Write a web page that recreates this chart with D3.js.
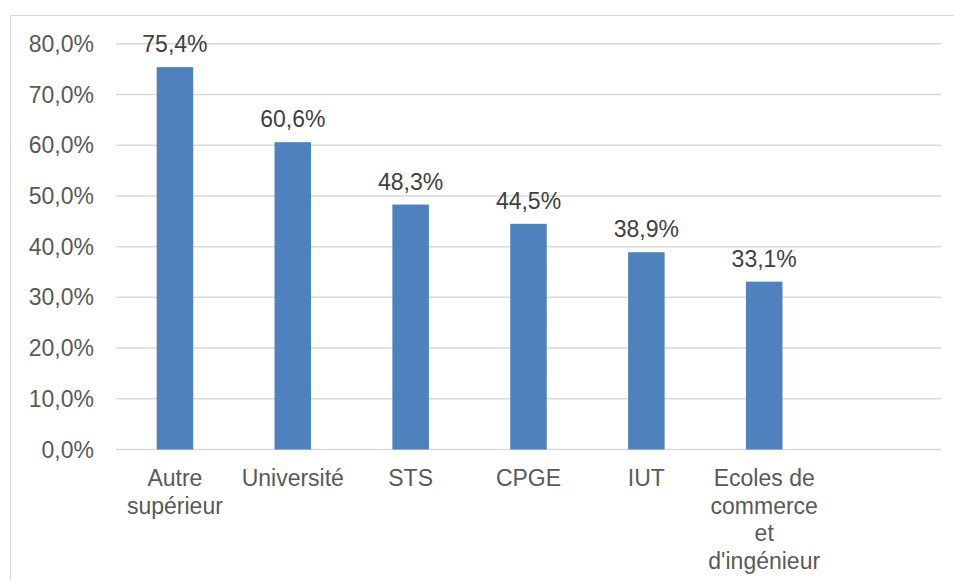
<!DOCTYPE html>
<html lang="fr">
<head>
<meta charset="UTF-8">
<script src="https://d3js.org/d3.v7.min.js"></script>
<style>
  body { margin: 0; background: #fff; }
  svg { display: block; font-family: "Liberation Sans", Arial, sans-serif; }
</style>
</head>
<body>
<div id="chart"></div>
<script>
const categories = ["Autre supérieur", "Université", "STS", "CPGE", "IUT", "Ecoles de commerce et d'ingénieur", ""];
const values = [75.4, 60.6, 48.3, 44.5, 38.9, 33.1, null];
const yTicks = [0, 10, 20, 30, 40, 50, 60, 70, 80];

const width = 954, height = 581;
const margin = { top: 43.8, left: 116, right: 13, bottom: 131.5 };

const svg = d3.select("#chart").append("svg")
  .attr("width", width)
  .attr("height", height);

// chart border
svg.append("rect")
  .attr("x", 10.5).attr("y", 15.5)
  .attr("width", 980).attr("height", 620)
  .attr("fill", "none")
  .attr("stroke", "#d9d9d9");

const x = d3.scaleBand()
  .domain(categories.map((c, i) => i))
  .range([margin.left, width - margin.right])
  .paddingInner(0.69)
  .paddingOuter(0.345);

const y = d3.scaleLinear()
  .domain([0, 80])
  .range([height - margin.bottom, margin.top]);

const fmt = v => v.toFixed(1).replace(".", ",") + "%";

// gridlines
svg.append("g")
  .selectAll("line")
  .data(yTicks)
  .join("line")
  .attr("x1", margin.left)
  .attr("x2", width - margin.right)
  .attr("y1", d => y(d))
  .attr("y2", d => y(d))
  .attr("stroke", "#d9d9d9")
  .attr("stroke-width", 1.5);

// y labels
svg.append("g")
  .selectAll("text")
  .data(yTicks)
  .join("text")
  .attr("x", margin.left - 22)
  .attr("y", d => y(d))
  .attr("dy", "0.35em")
  .attr("text-anchor", "end")
  .attr("font-size", 23)
  .attr("fill", "#595959")
  .text(d => fmt(d));

const data = categories.map((c, i) => ({ i, c, v: values[i] })).filter(d => d.v != null);

svg.append("g")
  .selectAll("rect")
  .data(data)
  .join("rect")
  .attr("x", d => x(d.i))
  .attr("width", x.bandwidth())
  .attr("y", d => y(d.v))
  .attr("height", d => y(0) - y(d.v))
  .attr("fill", "#4f81bd");

// value labels
svg.append("g")
  .selectAll("text")
  .data(data)
  .join("text")
  .attr("x", d => x(d.i) + x.bandwidth() / 2)
  .attr("y", d => y(d.v) - 15)
  .attr("text-anchor", "middle")
  .attr("font-size", 23)
  .attr("fill", "#404040")
  .text(d => fmt(d.v));

// category labels with wrapping
const step = x.step();
const catG = svg.append("g");
data.forEach(d => {
  const t = catG.append("text")
    .attr("x", x(d.i) + x.bandwidth() / 2)
    .attr("y", y(0) + 36.5)
    .attr("text-anchor", "middle")
    .attr("font-size", 23)
    .attr("fill", "#595959");
  const words = d.c.split(" ");
  let line = [];
  let lineNo = 0;
  let tspan = t.append("tspan").attr("x", x(d.i) + x.bandwidth() / 2).attr("dy", 0);
  words.forEach(w => {
    line.push(w);
    tspan.text(line.join(" "));
    if (tspan.node().getComputedTextLength() > step && line.length > 1) {
      line.pop();
      tspan.text(line.join(" "));
      line = [w];
      lineNo++;
      tspan = t.append("tspan")
        .attr("x", x(d.i) + x.bandwidth() / 2)
        .attr("dy", 27.5)
        .text(w);
    }
  });
});
</script>
</body>
</html>
